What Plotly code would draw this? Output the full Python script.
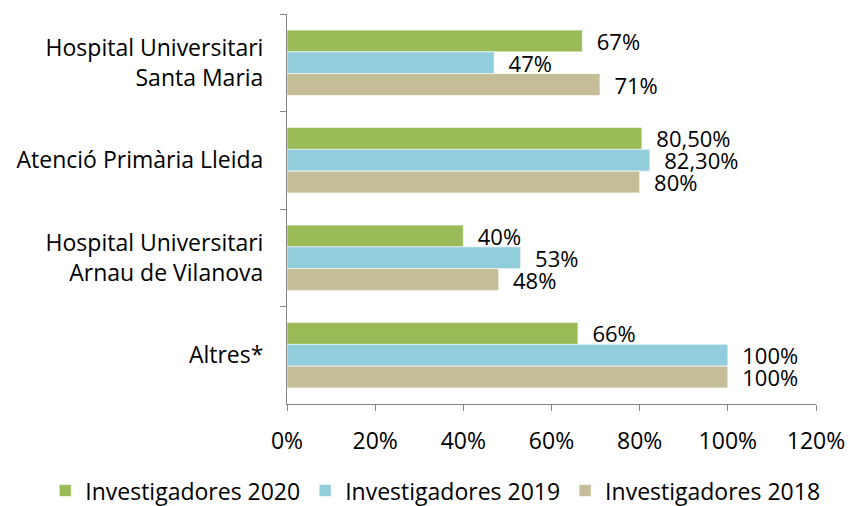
import plotly.graph_objects as go

categories = ["Hospital Universitari<br>Santa Maria", "Atenció Primària Lleida",
              "Hospital Universitari<br>Arnau de Vilanova", "Altres*"]
series_names = ["Investigadores 2020", "Investigadores 2019", "Investigadores 2018"]
values_2020 = [67, 80.5, 40, 66]
values_2019 = [47, 82.3, 53, 100]
values_2018 = [71, 80, 48, 100]
labels_2020 = ["67%", "80,50%", "40%", "66%"]
labels_2019 = ["47%", "82,30%", "53%", "100%"]
labels_2018 = ["71%", "80%", "48%", "100%"]
x_ticks = [0, 20, 40, 60, 80, 100, 120]
x_ticklabels = ["0%", "20%", "40%", "60%", "80%", "100%", "120%"]
colors = ["#9BBB59", "#92CDDC", "#C4BD97"]

FONT = "Open Sans, sans-serif"
FS = 23
fig = go.Figure()
for name, vals, labs, col in zip(series_names,
                                 [values_2020, values_2019, values_2018],
                                 [labels_2020, labels_2019, labels_2018], colors):
    fig.add_trace(go.Bar(
        y=categories, x=vals, name=name, orientation="h",
        marker=dict(color=col, line=dict(color="white", width=0.6)),
        text=["  " + t for t in labs], textposition="outside",
        constraintext="none",
        textfont=dict(family=FONT, size=22, color="black"),
        cliponaxis=False,
    ))

fig.update_layout(
    width=848, height=506,
    margin=dict(l=287, r=32, t=14, b=102, autoexpand=False),
    barmode="group", bargap=0.33, bargroupgap=0,
    plot_bgcolor="white", paper_bgcolor="white",
    font=dict(family=FONT, size=FS, color="black"),
    legend=dict(orientation="h", x=-0.457, xanchor="left", y=-0.222, yanchor="middle",
                font=dict(size=FS), itemwidth=30, traceorder="normal",
                tracegroupgap=0),
    uniformtext=dict(mode=False),
)
fig.update_xaxes(range=[0, 120], tickvals=x_ticks, ticktext=x_ticklabels,
                 showgrid=False, zeroline=False, showline=True, linecolor="#868686",
                 linewidth=1, ticks="outside", ticklen=6, tickcolor="#868686",
                 tickfont=dict(size=FS), ticklabelstandoff=10)
fig.update_yaxes(autorange="reversed", showgrid=False, showline=True,
                 linecolor="#868686", linewidth=1, ticks="outside", ticklen=6,
                 tickcolor="#868686", tickson="boundaries",
                 tickfont=dict(size=FS), ticklabelstandoff=18)
fig.write_html("out.html", config={"displayModeBar": False},
               post_script="document.body.style.margin='0';")
